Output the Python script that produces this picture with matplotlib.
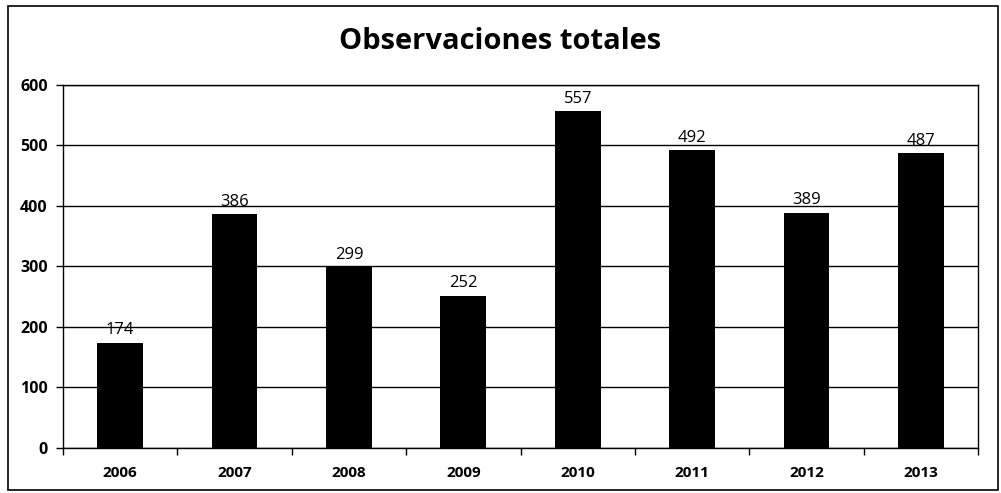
import matplotlib
matplotlib.use("Agg")
import matplotlib.pyplot as plt
from matplotlib.patches import Rectangle

years = ["2006", "2007", "2008", "2009", "2010", "2011", "2012", "2013"]
values = [174, 386, 299, 252, 557, 492, 389, 487]
yticks = [0, 100, 200, 300, 400, 500, 600]

plt.rcParams['font.family'] = ['Open Sans', 'DejaVu Sans']

fig = plt.figure(figsize=(10.01, 4.93), dpi=100)
ax = fig.add_axes([0.063, 0.0913, 0.914, 0.7364])

x = list(range(len(years)))
ax.bar(x, values, width=0.4, color='black', zorder=3)
for xi, v in zip(x, values):
    ax.text(xi, v + 7, str(v), ha='center', va='bottom', fontsize=12, color='black', zorder=4)

ax.set_xlim(-0.5, len(years) - 0.5)
ax.set_ylim(0, 600)
ax.set_yticks(yticks)
ax.set_yticklabels([str(t) for t in yticks], fontsize=11.5, fontweight='bold')
ax.set_xticks(x)
ax.set_xticklabels(years, fontsize=11, fontweight='bold')
ax.tick_params(axis='x', length=0, pad=13)
ax.tick_params(axis='y', length=5, width=1, pad=6)
ax.set_xticks([i + 0.5 for i in range(-1, len(years))], minor=True)
ax.tick_params(axis='x', which='minor', length=5, width=1, direction='out')
ax.yaxis.grid(True, color='black', linewidth=1, zorder=1)
for s in ax.spines.values():
    s.set_color('black')
    s.set_linewidth(1)

fig.text(0.5, 0.915, "Observaciones totales", ha='center', va='center',
         fontsize=21, fontweight='bold')

fig.patches.append(Rectangle((8/1001, 1 - 490/493), 990/1001, 484/493,
                             transform=fig.transFigure, fill=False,
                             edgecolor='black', linewidth=1.2))

fig.savefig("out.png", dpi=100)
